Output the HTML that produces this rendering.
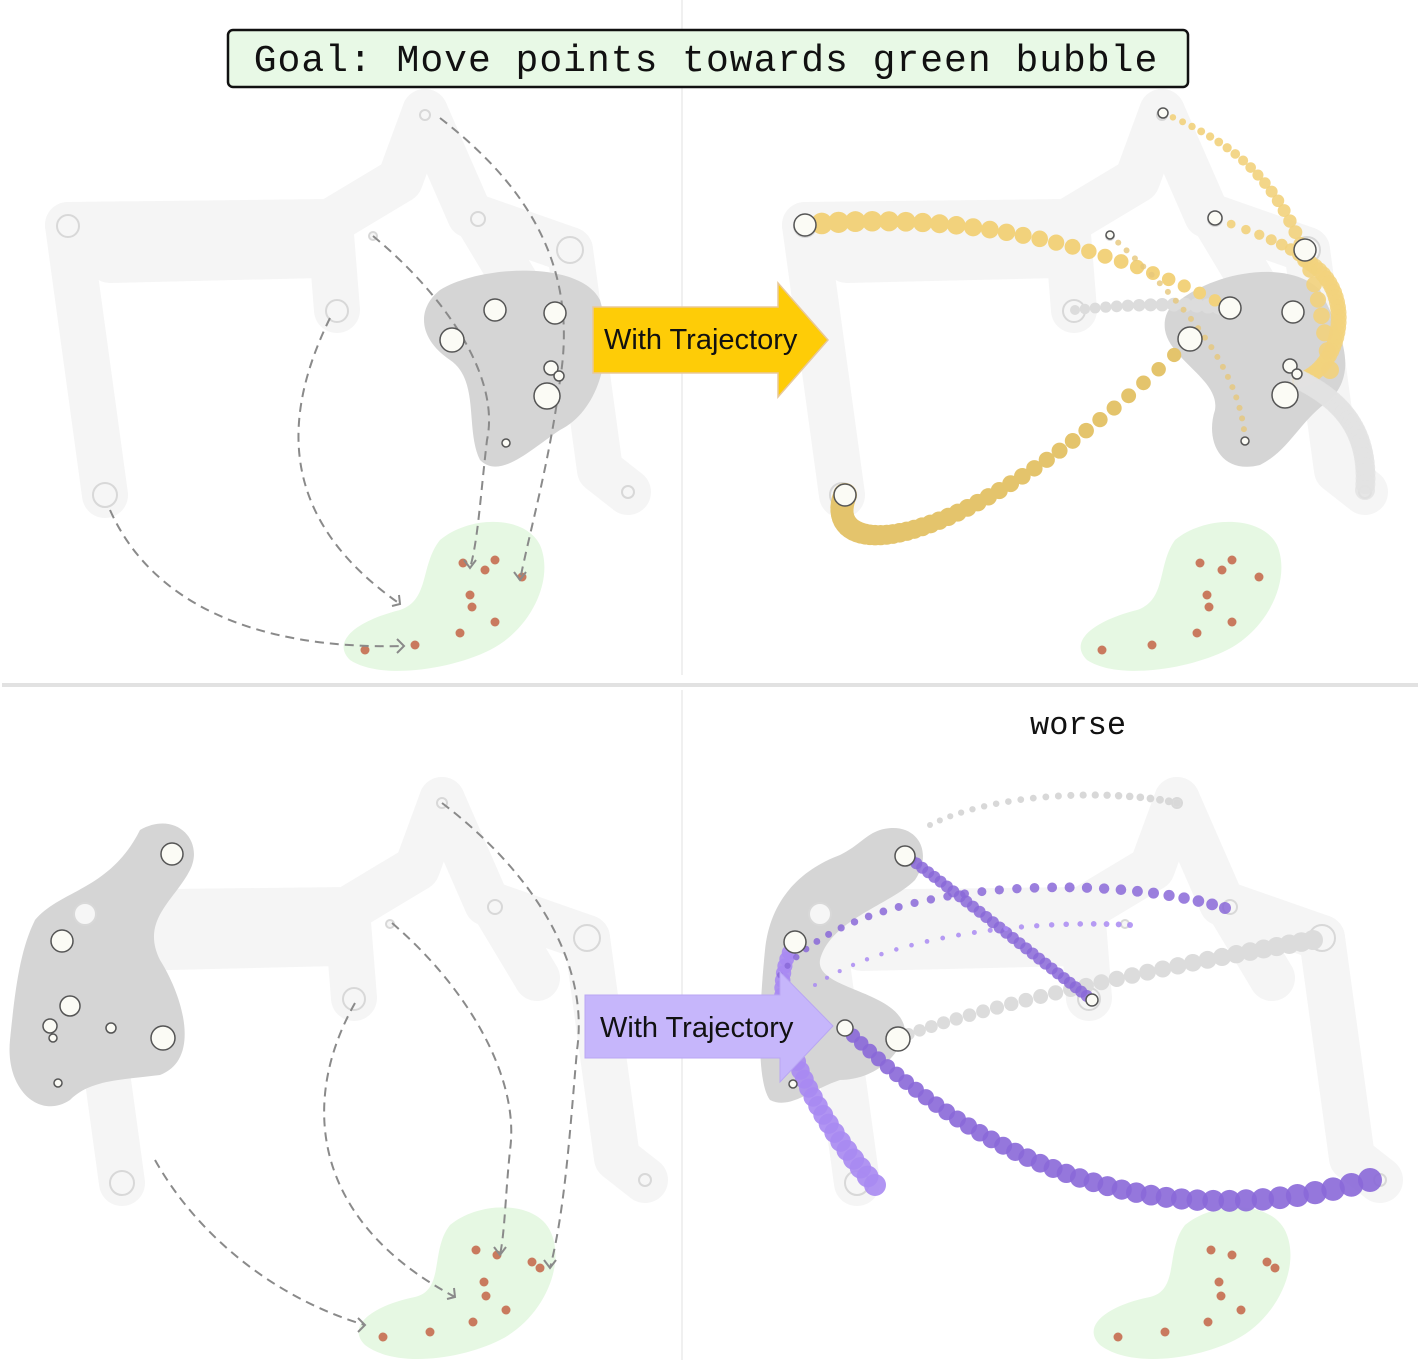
<!DOCTYPE html>
<html><head><meta charset="utf-8">
<style>
html,body{margin:0;padding:0;background:#fff;}
svg{display:block;}
text{font-family:"Liberation Sans",sans-serif;}
</style></head>
<body>
<svg id="fig" width="1424" height="1365" viewBox="0 0 1424 1365" xmlns="http://www.w3.org/2000/svg">
<g id="bg"></g>
<line x1="2" y1="685" x2="1418" y2="685" stroke="#e2e2e2" stroke-width="4"/>
<line x1="682" y1="0" x2="682" y2="675" stroke="#f0f0f0" stroke-width="2"/>
<line x1="682" y1="690" x2="682" y2="1360" stroke="#f0f0f0" stroke-width="2"/>
<g id="marks"></g>
<g>
<rect x="228" y="30" width="960" height="57" rx="5" fill="#e8f9e6" stroke="#111" stroke-width="2.5"/>
<text x="706" y="71" text-anchor="middle" font-size="38" letter-spacing="1" style="font-family:'Liberation Mono',monospace" fill="#111">Goal: Move points towards green bubble</text>
</g>
<g>
<polygon points="593,307 778,307 778,283 828,340 778,397 778,373 593,373" fill="#fecc07" stroke="#e8c89a" stroke-width="1.5"/>
<text x="604" y="349" font-size="29" fill="#111">With Trajectory</text>
</g>
<g>
<polygon points="585,995 780,995 780,972 833,1026 780,1082 780,1058 585,1058" fill="#c6b6fb" stroke="#b9a6f3" stroke-width="1"/>
<text x="600" y="1037" font-size="29" fill="#111">With Trajectory</text>
</g>
<text x="1030" y="734" font-size="32" style="font-family:'Liberation Mono',monospace" fill="#111">worse</text>
</svg>
<script>
const NS='http://www.w3.org/2000/svg';
const bg=document.getElementById('bg'), mk=document.getElementById('marks');
function el(p,t,a){const e=document.createElementNS(NS,t);for(const k in a)e.setAttribute(k,a[k]);p.appendChild(e);return e;}
const panelOffX=[0,737,17,752];
const panelOffY=[0,0,688,688];
const skeleton=[[[68,225],[105,495]],[[68,225],[330,222],[400,180],[425,112]],[[425,112],[470,215],[570,250]],[[570,250],[600,470],[628,492]],[[330,222],[337,310]],[[478,220],[520,290]],[[110,260],[320,255]]];
const skelCircles=[[68,226,11],[105,495,12],[337,311,11],[425,115,5],[478,219,7],[570,250,13],[628,492,6],[373,236,4]];
const redX=[463,485,495,522,470,472,495,460,415,365];
const redY=[563,570,560,577,595,607,622,633,645,650];
const redBX=[476,497,532,484,486,506,473,430,383,540];
const redBY=[1250,1255,1262,1282,1296,1310,1322,1332,1337,1268];
for(let p=0;p<4;p++){
  const dx=panelOffX[p],dy=panelOffY[p];
  const g=el(bg,'g',{});
  
  
  skeleton.forEach(s=>{el(g,'polyline',{points:s.map(q=>(q[0]+dx)+','+(q[1]+dy)).join(' '),fill:'none',stroke:'#f5f5f5','stroke-width':46,'stroke-linejoin':'round','stroke-linecap':'round'});});
}
const blobs=[
 ['dark-blob','#d5d5d5','M440,290 C480,265 580,260 600,300 C615,350 600,410 560,430 C530,450 500,480 480,460 C465,430 480,380 450,360 C420,340 415,310 440,290Z'],
 ['dark-blob','#d5d5d5','M1180,300 C1220,270 1290,260 1320,290 C1340,330 1360,370 1330,400 C1300,420 1290,450 1260,465 C1220,475 1205,440 1215,410 C1220,380 1170,360 1165,330 C1163,315 1170,305 1180,300Z'],
 ['dark-blob','#d5d5d5','M140,830 C175,810 205,840 190,870 C175,900 140,920 160,960 C185,1000 200,1060 160,1075 C120,1080 90,1080 70,1100 C40,1120 5,1090 10,1040 C15,990 20,950 35,920 C60,890 110,890 140,830Z'],
 ['dark-blob','#d5d5d5','M880,830 C915,820 935,850 915,880 C890,905 830,920 820,960 C815,990 900,990 905,1030 C900,1060 870,1080 840,1080 C810,1090 790,1110 770,1100 C755,1080 760,1000 765,950 C770,900 800,870 840,855 C860,845 865,835 880,830Z'],
 ['green-blob','#e6f8e3','M440,540 C470,515 525,515 540,545 C555,580 530,630 490,650 C450,670 380,680 350,660 C330,640 360,620 400,610 C430,600 420,565 440,540Z'],
 ['green-blob','#e6f8e3','M1175,540 C1205,515 1262,515 1277,545 C1292,580 1267,630 1227,650 C1187,670 1117,680 1087,660 C1067,640 1097,620 1137,610 C1167,600 1157,565 1175,540Z'],
 ['green-blob','#e6f8e3','M450,1225 C480,1200 540,1200 552,1235 C565,1270 540,1320 500,1340 C460,1360 395,1368 365,1345 C345,1325 375,1305 415,1297 C445,1290 430,1250 450,1225Z'],
 ['green-blob','#e6f8e3','M1185,1225 C1215,1200 1275,1200 1287,1235 C1300,1270 1275,1320 1235,1340 C1195,1360 1130,1368 1100,1345 C1080,1325 1110,1305 1150,1297 C1180,1290 1165,1250 1185,1225Z']];
blobs.forEach(b=>{const e=el(bg,'path',{d:b[2],fill:b[1]});});
for(let p=0;p<4;p++){const dx=panelOffX[p],dy=panelOffY[p];
 skelCircles.forEach(c=>{const e=el(bg,'circle',{cx:c[0]+dx,cy:c[1]+dy,r:c[2],fill:'#f6f6f6',stroke:'#d8d8d8','stroke-width':2});});}
function reds(xs,ys,dx,dy){for(let i=0;i<xs.length;i++){const e=el(mk,'circle',{cx:xs[i]+dx,cy:ys[i]+dy,r:4.5,fill:'#c97a5e'});}}
reds(redX,redY,0,0);reds(redX,redY,737,0);reds(redBX,redBY,0,0);reds(redBX,redBY,735,0);
const dashed=['M440,118 C520,180 580,260 560,380 C550,460 530,530 520,580','M373,236 C450,300 500,380 487,440 C480,500 478,540 470,568','M330,318 C280,420 280,520 400,604','M110,510 C150,600 250,650 404,646',
 'M442,803 C530,870 590,960 577,1050 C570,1130 565,1210 550,1268','M392,923 C470,990 520,1080 510,1150 C505,1200 505,1230 500,1255','M355,1003 C300,1100 310,1220 455,1297','M155,1160 C200,1240 280,1300 365,1325'];
dashed.forEach(d=>{const e=el(mk,'path',{d:d,fill:'none',stroke:'#8a8a8a','stroke-width':2,'stroke-dasharray':'9 6'});});
const heads=[[520,580,0],[470,568,0],[400,604,1],[404,646,2],[550,1268,0],[500,1255,0],[455,1297,1],[365,1325,2]];
heads.forEach(h=>{const x=h[0],y=h[1];let pts;
 if(h[2]==0)pts=(x-6)+','+(y-8)+' '+x+','+y+' '+(x+6)+','+(y-8);
 else if(h[2]==1)pts=(x-8)+','+(y+2)+' '+x+','+y+' '+(x-1)+','+(y-9);
 else pts=(x-7)+','+(y-7)+' '+x+','+y+' '+(x-7)+','+(y+7);
 const e=el(mk,'polyline',{points:pts,fill:'none',stroke:'#8a8a8a','stroke-width':2});});
function traj(P,r0,r1,n,fill,stroke,name,op){
 for(let i=0;i<=n;i++){const t=i/n,u=1-t;
  const x=u*u*u*P[0]+3*u*u*t*P[2]+3*u*t*t*P[4]+t*t*t*P[6];
  const y=u*u*u*P[1]+3*u*u*t*P[3]+3*u*t*t*P[5]+t*t*t*P[7];
  const e=el(mk,'circle',{cx:x,cy:y,r:r0+(r1-r0)*t,fill:fill,opacity:op});
  
  }
}
const Y='#f2d27c',Yd='#e4c46c',P1='#8a68d8',P2='#a98af2',G='#dcdcdc';
traj([1075,310,1120,305,1180,302,1230,308],5,8,14,G,'','gray-trajectory',1);
traj([805,225,950,210,1100,240,1230,308],11,6,26,Y,'','yellow-trajectory',1);
traj([845,495,820,560,950,570,1190,340],12,7,45,Yd,'','yellow-trajectory',1);
traj([1163,113,1250,150,1310,200,1330,370],3,9,26,Y,'','yellow-trajectory',0.9);
traj([1215,218,1260,235,1290,245,1305,260],4,7,8,Y,'','yellow-trajectory',0.9);
traj([1110,235,1170,290,1240,360,1245,440],3,3,22,'#e6c77a','','yellow-trajectory',0.8);
traj([1305,260,1360,290,1340,370,1300,380],8,8,30,Y,'','yellow-trajectory',0.85);
traj([1300,380,1340,400,1370,430,1365,490],10,10,30,'#e2e2e2','','gray-trajectory',0.8);
traj([930,825,1000,790,1120,790,1177,803],3,4,22,'#d8d8d8','','gray-trajectory',1);
traj([898,1038,1000,1000,1200,960,1313,940],6,10,30,G,'','gray-trajectory',1);
traj([845,1028,950,1130,1120,1250,1370,1180],7,12,40,P1,'','purple-trajectory',0.9);
traj([905,855,960,895,1040,960,1092,1000],6,6,30,P1,'','purple-trajectory',0.85);
traj([795,940,760,1000,800,1100,875,1185],7,11,30,P2,'','purple-trajectory',0.9);
traj([780,975,850,880,1100,870,1225,908],3,6,30,P1,'','purple-trajectory',0.85);
traj([815,985,900,930,1050,920,1130,925],2,3,22,P2,'','purple-trajectory',0.85);
const nodeX=[495,555,452,547,551,559,506,1230,1293,1190,1285,1290,1297,1245,805,845,1163,1215,1305,1110,172,62,70,163,50,53,111,58,905,795,898,845,793,1092];
const nodeY=[310,313,340,396,368,376,443,308,312,339,395,366,374,441,225,495,113,218,250,235,854,941,1006,1038,1026,1038,1028,1083,856,942,1039,1028,1084,1000];
const nodeR=[11,11,12,13,7,5,4,11,11,12,13,7,5,4,11,11,5,7,11,4,11,11,10,12,7,4,5,4,10,11,12,8,4,6];
for(let i=0;i<nodeX.length;i++){const e=el(mk,'circle',{cx:nodeX[i],cy:nodeY[i],r:nodeR[i],fill:'#fbfbf5',stroke:'#555','stroke-width':1.5});
 
 }
</script>
</body></html>
